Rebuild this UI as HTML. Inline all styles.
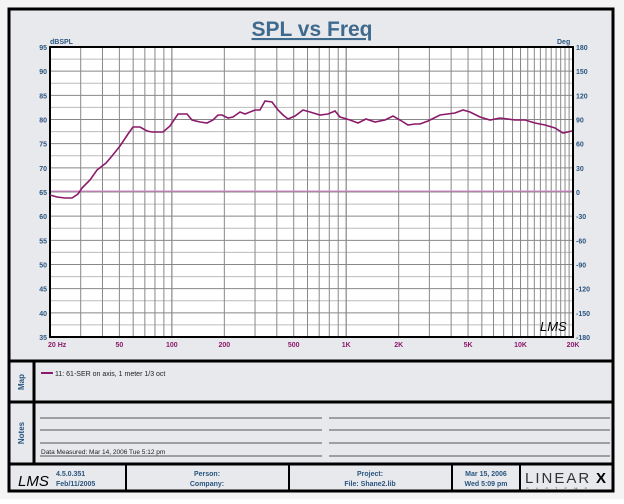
<!DOCTYPE html>
<html><head><meta charset="utf-8"><style>
body{margin:0;background:#fff;width:624px;height:499px;overflow:hidden;font-family:"Liberation Sans",sans-serif}
svg text{font-family:"Liberation Sans",sans-serif}
</style></head><body>
<svg id="s" width="624" height="499" xmlns="http://www.w3.org/2000/svg">
<rect x="0" y="0" width="624" height="499" fill="#f4f4f4"/>
<rect x="9" y="9" width="604" height="482" fill="#e8e9ec" stroke="#000" stroke-width="3"/>
<line x1="9" y1="361" x2="613" y2="361" stroke="#000" stroke-width="3"/>
<line x1="9" y1="402" x2="613" y2="402" stroke="#000" stroke-width="3"/>
<line x1="9" y1="464" x2="613" y2="464" stroke="#000" stroke-width="3"/>
<line x1="34" y1="361" x2="34" y2="464" stroke="#000" stroke-width="3"/>
<text x="312" y="36" font-size="21" font-weight="bold" fill="#3e6a8e" text-anchor="middle" text-decoration="underline">SPL vs Freq</text>
<g id="plot"></g>
<text x="50" y="44" font-size="7" font-weight="bold" fill="#2a5580">dBSPL</text>
<text x="557" y="44" font-size="7" font-weight="bold" fill="#2a5580">Deg</text>
<text x="540" y="331" font-size="13" font-style="italic" fill="#000" font-family="Liberation Serif">LMS</text>
<text transform="translate(24,382) rotate(-90)" font-size="8" font-weight="bold" fill="#2a5580" text-anchor="middle">Map</text>
<text transform="translate(24,433) rotate(-90)" font-size="8" font-weight="bold" fill="#2a5580" text-anchor="middle">Notes</text>
<line x1="41" y1="373" x2="53" y2="373" stroke="#8b1a6b" stroke-width="2"/>
<text x="55" y="376" font-size="7" fill="#222">11: 61-SER on axis, 1 meter 1/3 oct</text>
<g stroke="#555" stroke-width="1">
<line x1="40" y1="418" x2="322" y2="418"/><line x1="329" y1="418" x2="610" y2="418"/>
<line x1="40" y1="430" x2="322" y2="430"/><line x1="329" y1="430" x2="610" y2="430"/>
<line x1="40" y1="443" x2="322" y2="443"/><line x1="329" y1="443" x2="610" y2="443"/>
<line x1="40" y1="456" x2="322" y2="456"/><line x1="329" y1="456" x2="610" y2="456"/>
</g>
<text x="41" y="454" font-size="6.5" fill="#222">Data Measured: Mar 14, 2006  Tue  5:12 pm</text>
<g stroke="#000" stroke-width="2">
<line x1="126" y1="464" x2="126" y2="491"/><line x1="289" y1="464" x2="289" y2="491"/>
<line x1="452" y1="464" x2="452" y2="491"/><line x1="520" y1="464" x2="520" y2="491"/>
</g>
<text x="18" y="486" font-size="15" font-style="italic" font-family="Liberation Serif">LMS</text>
<g font-size="7" font-weight="bold" fill="#2a5580">
<text x="56" y="476">4.5.0.351</text><text x="56" y="486">Feb/11/2005</text>
<text x="207" y="476" text-anchor="middle">Person:</text><text x="207" y="486" text-anchor="middle">Company:</text>
<text x="370" y="476" text-anchor="middle">Project:</text><text x="370" y="486" text-anchor="middle">File: Shane2.lib</text>
<text x="486" y="476" text-anchor="middle">Mar 15, 2006</text><text x="486" y="486" text-anchor="middle">Wed  5:09 pm</text>
</g>
<text x="525" y="483" font-size="15" font-family="Liberation Serif" fill="#333" letter-spacing="2">LINEAR</text>
<text x="596" y="483" font-size="15" font-weight="bold" fill="#000">X</text>
<text x="526" y="490" font-size="4" fill="#555" letter-spacing="7">SYSTEMS</text>
</svg>
<script>
const NS="http://www.w3.org/2000/svg",g=document.getElementById('plot');
function el(t,a,txt){const e=document.createElementNS(NS,t);for(const k in a)e.setAttribute(k,a[k]);if(txt!==undefined)e.textContent=txt;g.appendChild(e);return e;}
const X0=50,X1=573,Y0=47,Y1=337;
const fx=f=>X0+(Math.log10(f)-Math.log10(20))/3*(X1-X0);
const dy=d=>Y0+(95-d)/60*(Y1-Y0);
el('rect',{x:X0,y:Y0,width:X1-X0,height:Y1-Y0,fill:'#fff'});
for(let d=35;d<=95;d+=2.5)el('line',{x1:X0,y1:dy(d),x2:X1,y2:dy(d),stroke:d%5?'#bbb':'#888','stroke-width':1});
[[20,100,10],[100,1000,100],[1000,10000,1000],[10000,20000,1000]].forEach(([a,b,s])=>{for(let f=a;f<=b;f+=s){const x=fx(f);el('line',{x1:x,y1:Y0,x2:x,y2:Y1,stroke:'#888','stroke-width':1});}});
el('line',{x1:X0,y1:dy(65)-1,x2:X1,y2:dy(65)-1,stroke:'#d880c8','stroke-width':1});
el('rect',{x:X0,y:Y0,width:X1-X0,height:Y1-Y0,fill:'none',stroke:'#000','stroke-width':2});
for(let i=0;i<=12;i++){const d=95-5*i,y=dy(d);
el('text',{x:X0-3,y:y+3,'font-size':7,'font-weight':'bold',fill:'#2a5580','text-anchor':'end'},d);
el('text',{x:X1+3,y:y+3,'font-size':7,'font-weight':'bold',fill:'#2a5580'},180-30*i);}
[[20,'20  Hz'],[50,'50'],[100,'100'],[200,'200'],[500,'500'],[1000,'1K'],[2000,'2K'],[5000,'5K'],[10000,'10K'],[20000,'20K']].forEach(([f,t])=>{
el('text',{x:f==20?fx(f)-2:fx(f),y:Y1+10,'font-size':7,'font-weight':'bold',fill:'#8b1a6b','text-anchor':f==20?'start':'middle'},t);});
const p=[[50,195],[57,197],[65,198],[72,198],[78,194],[82,188],[90,180],[97,170],[106,163],[112,156],[120,146],[128,134],[133,127],[140,127],[147,131],[152,132],[163,132],[170,126],[178,114],[187,114],[192,120],[200,122],[207,123],[213,120],[218,115],[222,115],[228,118],[233,117],[240,112],[245,114],[255,110],[260,110],[265,101],[272,102],[278,110],[283,115],[288,119],[295,116],[303,110],[310,112],[320,115],[328,114],[335,111],[340,117],[350,120],[358,123],[366,119],[375,122],[385,120],[393,116],[400,120],[408,125],[415,124],[420,124],[428,121],[440,115],[455,113],[463,110],[470,112],[480,117],[490,120],[500,118],[515,120],[525,120],[535,123],[545,125],[555,128],[563,133],[572,131]];
el('polyline',{points:p.map(q=>q.join(',')).join(' '),fill:'none',stroke:'#8b1a6b','stroke-width':1.6});
</script>
</body></html>
